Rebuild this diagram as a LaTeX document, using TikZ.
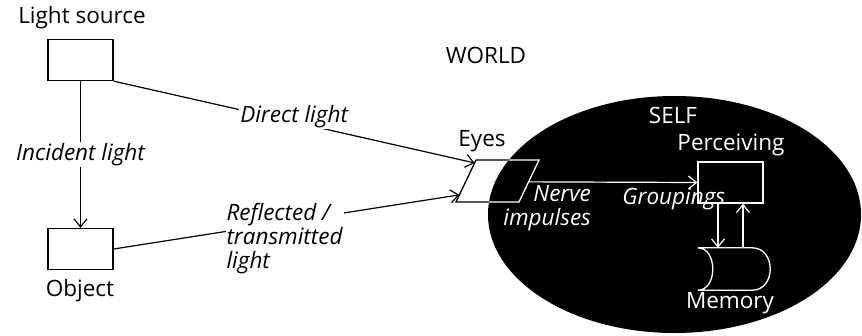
\documentclass[tikz,border=0pt]{standalone}
\usepackage{fontspec}
\setmainfont{Open Sans}
\usetikzlibrary{positioning, arrows.meta, calc}

\begin{document}
\begin{tikzpicture}[
  x=1pt, y=-1pt,
  every node/.style={font=\fontsize{22.5}{24}\selectfont, inner sep=1pt},
  box/.style={rectangle, draw, line width=1.3pt, minimum width=65pt, minimum height=41pt, inner sep=0pt},
  lbl/.style={font=\fontsize{22.5}{24}\selectfont\itshape, align=left, fill=white},
  arrow/.style={-{Straight Barb[length=8pt, width=13pt]}, line width=1.2pt},
  inside/.style={white, line width=1.3pt}
]
  \useasboundingbox (0,0) rectangle (862,335);

  % World side: source and object
  \node[box] (source) at (80.5,60) {};
  \node (sourcetxt) at (82,18) {Light source};
  \node[box] (object) at (80.5,249) {};
  \node (objecttxt) at (80,291) {Object};
  \node (world) at (486,55) {WORLD};

  % Self: black region
  \fill[black] (674.5,214.5) ellipse [x radius=186.5pt, y radius=118.5pt];
  \node[white] (self) at (673,115) {SELF};
  \node[white] (perceivetxt) at (731,145) {Perceiving};
  \node[box, draw=white, minimum height=41pt] (perceive) at (730.5,182.5) {};
  \node[rectangle, minimum width=72pt, minimum height=42pt, inner sep=0pt] (memory) at (734,269) {};
  \node[white] (memorytxt) at (730,303) {Memory};

  % Eyes (parallelogram, black outside, white inside the self)
  \coordinate (eyesTL) at (476,160);
  \coordinate (eyesTR) at (539,160);
  \coordinate (eyesBR) at (519,202);
  \coordinate (eyesBL) at (456,202);
  \coordinate (eyesin1) at ($(eyesTL)!0.07!(eyesBL)$);
  \coordinate (eyesin2) at ($(eyesTL)!0.83!(eyesBL)$);
  \coordinate (eyesout) at ($(eyesTR)!0.52!(eyesBR)$);
  \node (eyestxt) at (482,141) {Eyes};
  \draw[line width=1.3pt] (eyesTL) -- (eyesTR) -- (eyesBR) -- (eyesBL) -- cycle;
  \begin{scope}
    \clip (674.5,214.5) ellipse [x radius=186.5pt, y radius=118.5pt];
    \draw[inside] (eyesTL) -- (eyesTR) -- (eyesBR) -- (eyesBL) -- cycle;
  \end{scope}

  % Memory store
  \draw[inside] (memory.north west) -- ([xshift=-18pt]memory.north east)
    .. controls ([xshift=6pt]memory.north east) and ([xshift=6pt]memory.south east) .. ([xshift=-18pt]memory.south east)
    -- (memory.south west)
    .. controls ([xshift=20pt]memory.south west) and ([xshift=20pt]memory.north west) .. cycle;

  % Arrows
  \draw[arrow] (source.south) -- node[lbl, align=center] {Incident light} (object.north);
  \draw[arrow] (source.south east) -- node[lbl, pos=0.5, yshift=5pt] {Direct light} (eyesin1);
  \draw[arrow] (object.east) -- node[lbl, pos=0.5, yshift=-17pt, xshift=-2pt] {Reflected /\\transmitted\\light} (eyesin2);
  \draw[arrow, white] (eyesout) -- node[pos=0.11, below=2pt, white, font=\fontsize{22.5}{24}\selectfont\itshape, align=right] {Nerve\\impulses}
    node[pos=0.86, below=4pt, white, font=\fontsize{22.5}{24}\selectfont\itshape] {Groupings} (perceive.west);
  \draw[arrow, white] ([xshift=-12.5pt]perceive.south) -- ([xshift=-12.5pt]perceive.south |- memory.north);
  \draw[arrow, white] ([xshift=12.5pt]perceive.south |- memory.north) -- ([xshift=12.5pt]perceive.south);

\end{tikzpicture}
\end{document}
